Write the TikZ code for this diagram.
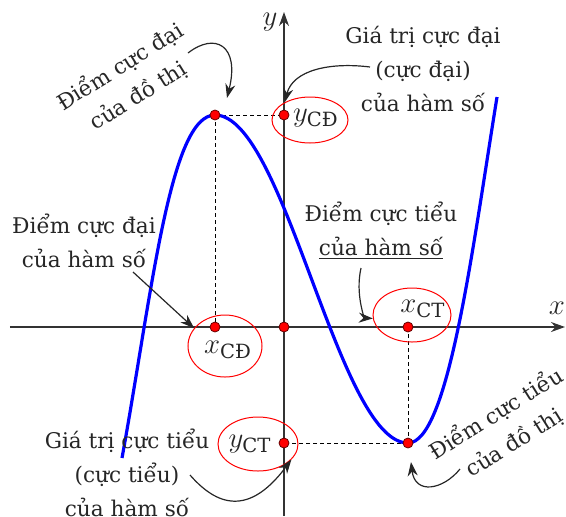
\documentclass[tikz,border=0pt]{standalone}
\usepackage{amsmath}
\usepackage{fontspec}
\setmainfont{DejaVu Serif}
\usetikzlibrary{arrows.meta, shapes.geometric}

\begin{document}
\begin{tikzpicture}[x=0.5pt, y=0.5pt,
    rdot/.style = {circle, draw=black!60!red, fill=red, inner sep=0pt, minimum size=5pt},
    ring/.style = {ellipse, draw=red, line width=0.5pt, inner sep=0pt},
    note/.style = {align=center, text=black!85, font=\fontsize{10.8}{17}\selectfont},
    lbl/.style = {text=black!85, font=\fontsize{14}{16}\selectfont},
    axis/.style = {line width=0.7pt, black!80, -{Stealth[length=7pt, width=5pt]}},
    graph/.style = {line width=1.6pt, blue},
    guide/.style = {line width=0.5pt, dash pattern=on 2pt off 1.5pt},
    conn/.style = {line width=0.6pt, black!85, -{Stealth[length=7pt, width=5pt]}}]
    \useasboundingbox (-284,-189) rectangle (282,327);

    % axes
    \draw[axis] (-274,0) -- (281,0);
    \draw[axis] (0,-189) -- (0,315);
    \node[lbl] (xname) at (273,19) {$x$};
    \node[lbl] (yname) at (-14,305) {$y$};

    % extreme points
    \coordinate (O) at (0,0);
    \coordinate (A) at (-69,212);
    \coordinate (B) at (124,-116);
    \coordinate (xCD) at (-69,0);
    \coordinate (xCT) at (124,0);
    \coordinate (yCD) at (0,212);
    \coordinate (yCT) at (0,-116);

    \draw[guide] (A) -- (yCD) (A) -- (xCD) (B) -- (xCT) (B) -- (yCT);
    \draw[graph] (-162,-131) .. controls (-132,34) and (-114,212) .. (A)
        .. controls (1,212) and (54,-116) .. (B)
        .. controls (164,-116) and (188,75) .. (213,230);

    \foreach \p in {O,A,B,xCD,xCT,yCD,yCT}
        \node[rdot] at (\p) {};

    % values on the axes
    \node[lbl] (lyCD) at (32,209) {$y_{\text{CĐ}}$};
    \node[lbl] (lxCD) at (-56,-23) {$x_{\text{CĐ}}$};
    \node[lbl] (lxCT) at (139,18) {$x_{\text{CT}}$};
    \node[lbl] (lyCT) at (-34,-117) {$y_{\text{CT}}$};
    \node[ring, minimum width=38pt, minimum height=23pt] (ryCD) at (26,207) {};
    \node[ring, minimum width=37pt, minimum height=31pt] (rxCD) at (-59,-19) {};
    \node[ring, minimum width=39pt, minimum height=27pt] (rxCT) at (128,12) {};
    \node[ring, minimum width=40pt, minimum height=27pt] (ryCT) at (-26,-117) {};

    % notes
    \node[note, rotate=32] (tMaxG) at (-155,246) {Điểm cực đại\\của đồ thị};
    \node[note] (tMaxV) at (139,258) {Giá trị cực đại\\(cực đại)\\của hàm số};
    \node[note] (tMaxH) at (-200,86) {Điểm cực đại\\của hàm số};
    \node[note] (tMinH) at (97,96) {Điểm cực tiểu\\\underline{của hàm số}};
    \node[note] (tMinV) at (-157,-146) {Giá trị cực tiểu\\(cực tiểu)\\của hàm số};
    \node[note, rotate=32] (tMinG) at (221,-101) {Điểm cực tiểu\\của đồ thị};

    % arrows
    \coordinate (sMaxG) at (-96,274);
    \coordinate (sMaxV) at (86,260);
    \coordinate (sMaxH) at (-151,55);
    \coordinate (sMinH) at (77,59);
    \coordinate (sMinV) at (-94,-148);
    \coordinate (sMinG) at (176,-142);
    \draw[conn] (sMaxG) .. controls (-69,295) and (-44,282) .. (-57,229);
    \draw[conn] (sMaxV) .. controls (46,265) and (9,257) .. (ryCD.145);
    \draw[conn] (sMaxH) -- (rxCD.150);
    \draw[conn] (sMinH) .. controls (71,32) and (81,9) .. (rxCT.185);
    \draw[conn] (sMinV) .. controls (-72,-173) and (-39,-195) .. (ryCT.335);
    \draw[conn] (sMinG) .. controls (159,-163) and (131,-168) .. (127,-135);
\end{tikzpicture}
\end{document}
